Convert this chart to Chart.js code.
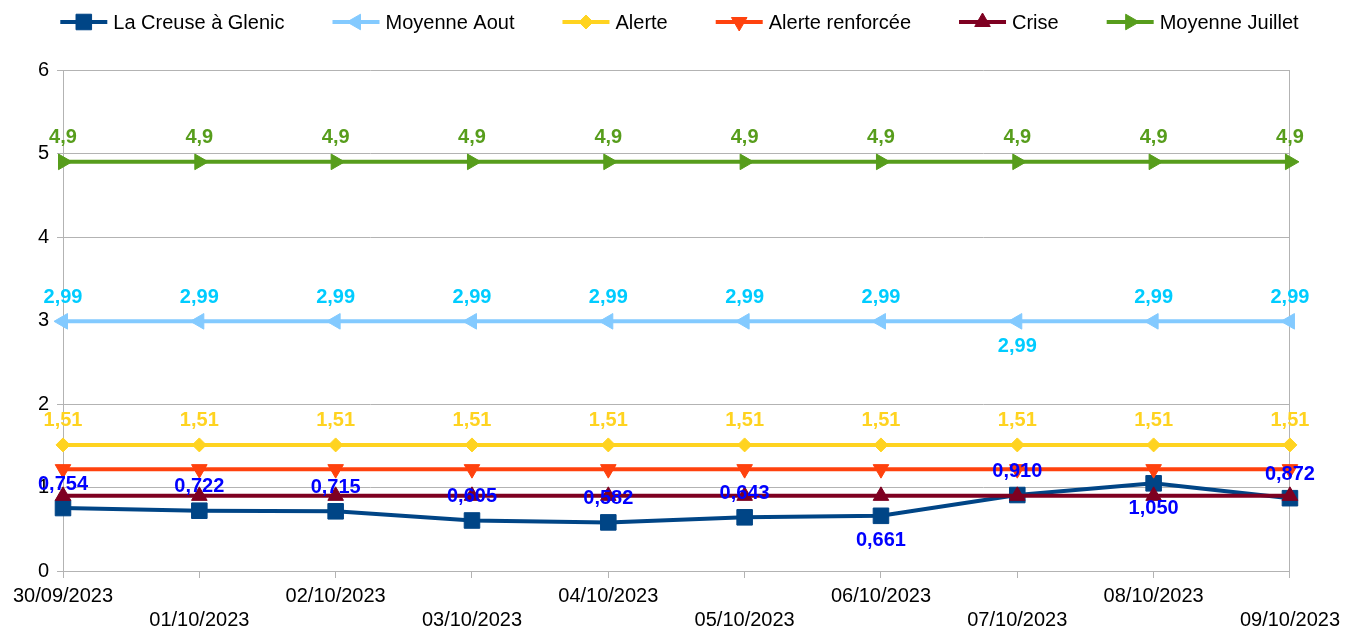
<!DOCTYPE html>
<html>
<head>
<meta charset="utf-8">
<script src="https://cdn.jsdelivr.net/npm/chart.js@4/dist/chart.umd.min.js"></script>
<style>
  html, body { margin: 0; padding: 0; background: #fff; }
  #wrap { width: 1346px; height: 632px; }
</style>
</head>
<body>
<div id="wrap"><canvas id="chart" width="1346" height="632"></canvas></div>
<script>
const categories = ['30/09/2023', '01/10/2023', '02/10/2023', '03/10/2023', '04/10/2023',
                    '05/10/2023', '06/10/2023', '07/10/2023', '08/10/2023', '09/10/2023'];
const creuseGlenic = [0.754, 0.722, 0.715, 0.605, 0.582, 0.643, 0.661, 0.910, 1.050, 0.872];
const moyenneAout = [2.99, 2.99, 2.99, 2.99, 2.99, 2.99, 2.99, 2.99, 2.99, 2.99];
const alerte = [1.51, 1.51, 1.51, 1.51, 1.51, 1.51, 1.51, 1.51, 1.51, 1.51];
const alerteRenforcee = [1.22, 1.22, 1.22, 1.22, 1.22, 1.22, 1.22, 1.22, 1.22, 1.22];
const crise = [0.9, 0.9, 0.9, 0.9, 0.9, 0.9, 0.9, 0.9, 0.9, 0.9];
const moyenneJuillet = [4.9, 4.9, 4.9, 4.9, 4.9, 4.9, 4.9, 4.9, 4.9, 4.9];
const yTicks = [0, 1, 2, 3, 4, 5, 6];

const FONT = '"Liberation Sans", Arial, sans-serif';
const GRID = '#b3b3b3';

// label settings per dataset (null = no value labels)
const valueLabels = [
  {color: '#0000ff', digits: 3, below: [6, 8]},
  {color: '#00ccff', digits: 2, below: [7]},
  {color: '#ffd320', digits: 2, below: []},
  null,
  null,
  {color: '#579d1c', digits: 1, below: []}
];

function serie(label, data, color, style, rotation, radius, order) {
  return {
    label: label, data: data, order: order,
    borderColor: color, backgroundColor: color,
    borderWidth: 4, tension: 0, fill: false,
    pointStyle: style, pointRotation: rotation,
    pointRadius: radius, pointHoverRadius: radius,
    pointBorderWidth: 1, pointBorderColor: color, pointBackgroundColor: color
  };
}

const datasets = [
  serie('La Creuse à Glenic', creuseGlenic, '#004586', 'rect', 0, 11, 6),
  serie('Moyenne Aout', moyenneAout, '#83caff', 'triangle', -90, 9, 5),
  serie('Alerte', alerte, '#ffd320', 'rectRot', 0, 7, 4),
  serie('Alerte renforcée', alerteRenforcee, '#ff420e', 'triangle', 180, 9, 3),
  serie('Crise', crise, '#7e0021', 'triangle', 0, 9, 1),
  serie('Moyenne Juillet', moyenneJuillet, '#579d1c', 'triangle', 90, 9, 2)
];

const lineLegend = {
  id: 'lineLegend',
  afterDraw(chart) {
    const ctx = chart.ctx;
    const lineW = 47, gapText = 6, gapItem = 48;
    ctx.save();
    ctx.font = '20px ' + FONT;
    const widths = datasets.map(d => lineW + gapText + ctx.measureText(d.label).width);
    const total = widths.reduce((a, b) => a + b, 0) + gapItem * (datasets.length - 1);
    const area = chart.chartArea;
    let x = (area.left + area.right) / 2 - total / 2 + 3;
    const y = 22;
    datasets.forEach((d, i) => {
      ctx.strokeStyle = d.borderColor;
      ctx.lineWidth = 4;
      ctx.beginPath();
      ctx.moveTo(x, y);
      ctx.lineTo(x + lineW, y);
      ctx.stroke();
      ctx.fillStyle = d.borderColor;
      ctx.lineWidth = 1;
      Chart.helpers.drawPoint(ctx, {
        pointStyle: d.pointStyle, rotation: d.pointRotation,
        radius: d.pointRadius, borderWidth: 1
      }, x + lineW / 2, y);
      ctx.fillStyle = '#000';
      ctx.textAlign = 'left';
      ctx.textBaseline = 'middle';
      ctx.fillText(d.label, x + lineW + gapText, y + 1);
      x += widths[i] + gapItem;
    });
    ctx.restore();
  }
};

const pointValues = {
  id: 'pointValues',
  afterDatasetsDraw(chart) {
    const ctx = chart.ctx;
    ctx.save();
    ctx.font = 'bold 20px ' + FONT;
    ctx.textAlign = 'center';
    ctx.textBaseline = 'middle';
    valueLabels.forEach((cfg, di) => {
      if (!cfg) return;
      const meta = chart.getDatasetMeta(di);
      ctx.fillStyle = cfg.color;
      meta.data.forEach((pt, i) => {
        const v = datasets[di].data[i];
        const txt = v.toFixed(cfg.digits).replace('.', ',');
        const dy = cfg.below.includes(i) ? 25 : -24;
        ctx.fillText(txt, pt.x, pt.y + dy);
      });
    });
    ctx.restore();
  }
};

new Chart(document.getElementById('chart'), {
  type: 'line',
  data: {labels: categories, datasets: datasets},
  options: {
    responsive: false,
    animation: false,
    layout: {padding: {top: 70, right: 5, left: 0, bottom: 0}},
    plugins: {legend: {display: false}, tooltip: {enabled: false}},
    scales: {
      x: {
        offset: false,
        grid: {
          color: c => c.index === categories.length - 1 ? GRID : 'transparent',
          tickColor: GRID, tickLength: 7
        },
        border: {color: GRID},
        ticks: {
          autoSkip: false, maxRotation: 0, minRotation: 0,
          color: '#000', font: {family: FONT, size: 20}, padding: 6,
          callback: (v, i) => i % 2 ? ['', categories[i]] : categories[i]
        },
        afterFit: s => { s.height = 61; }
      },
      y: {
        min: 0, max: 6,
        afterBuildTicks: s => { s.ticks = yTicks.map(v => ({value: v})); },
        grid: {color: GRID, tickColor: GRID, tickLength: 6},
        border: {color: GRID},
        ticks: {color: '#000', font: {family: FONT, size: 20}, padding: 8},
        afterFit: s => { s.width = 63; }
      }
    }
  },
  plugins: [pointValues, lineLegend]
});
</script>
</body>
</html>
